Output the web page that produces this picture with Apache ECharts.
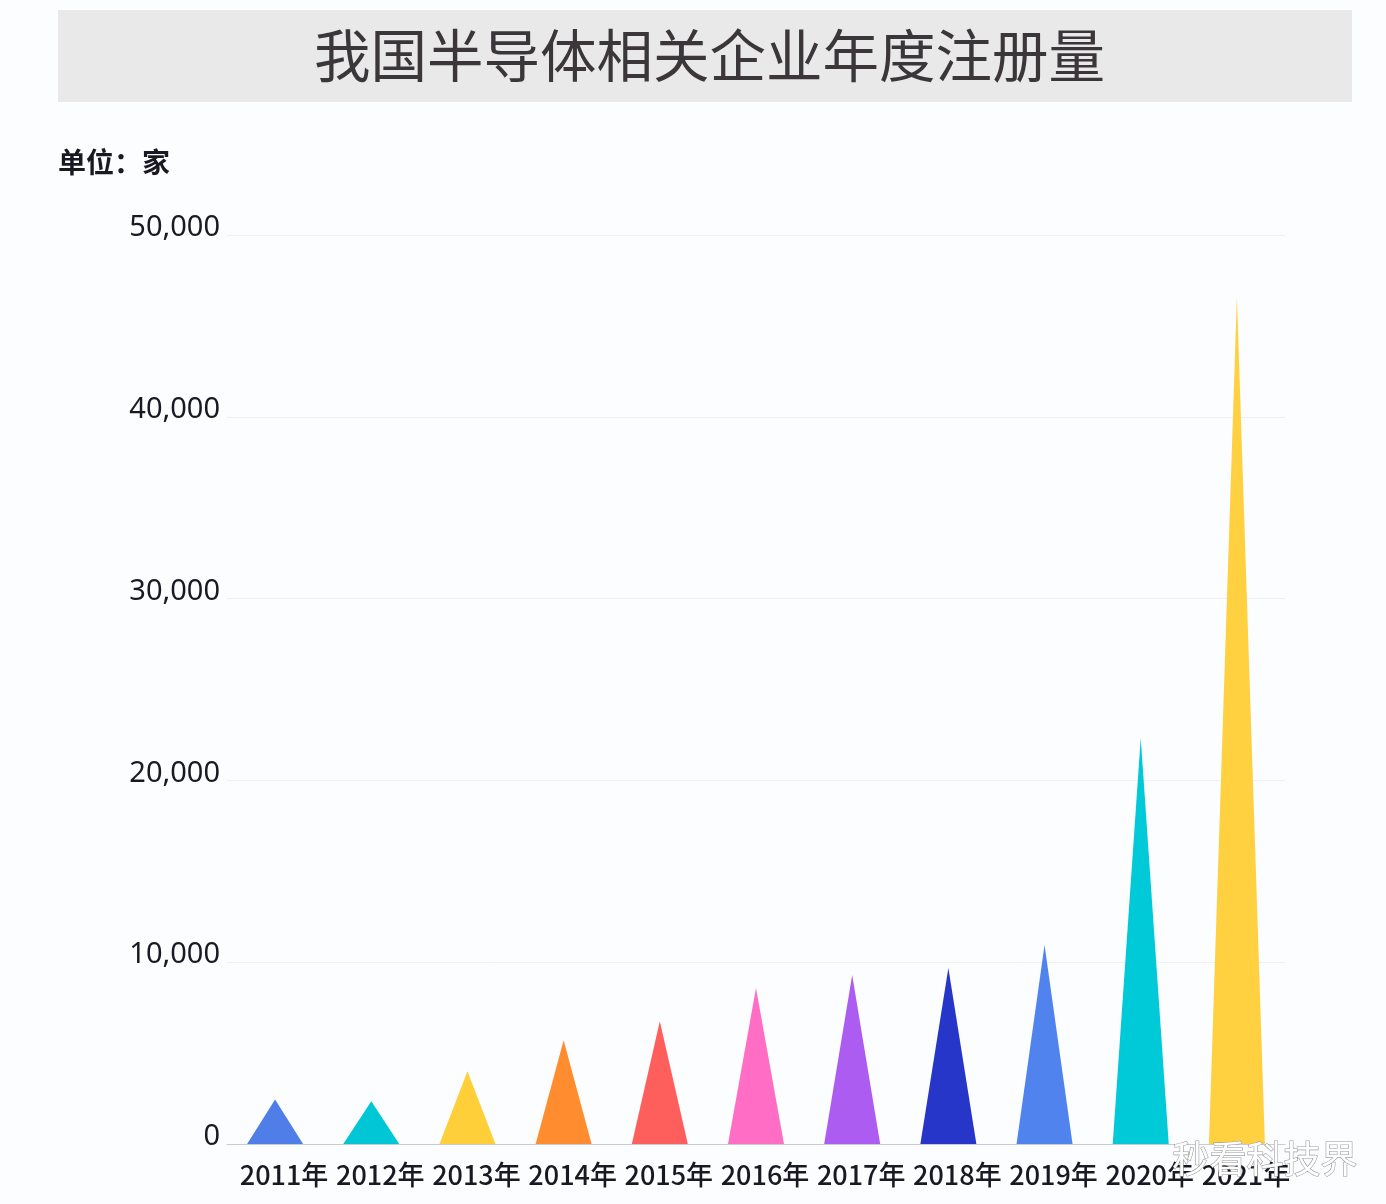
<!DOCTYPE html>
<html>
<head>
<meta charset="utf-8">
<script src="https://cdn.jsdelivr.net/npm/echarts@6/dist/echarts.min.js"></script>
<style>
  html, body { margin: 0; padding: 0; background: #fcfdff; }
  #main { width: 1386px; height: 1204px; }
</style>
</head>
<body>
<div id="main"></div>
<script>
    var years = ['2011年', '2012年', '2013年', '2014年', '2015年', '2016年',
        '2017年', '2018年', '2019年', '2020年', '2021年'];
    var counts = [2450, 2350, 4000, 5700, 6750, 8580, 9300, 9680, 10950, 22330, 46600];
    var colors = ['#4f7ee8', '#00c6d6', '#ffcf3a', '#ff8c2e', '#ff5f5c', '#ff6ec4',
        '#ad5cf2', '#2636c9', '#5083ee', '#00c9d8', '#ffd03f'];
    var yTicks = [0, 10000, 20000, 30000, 40000, 50000];

    var myChart = echarts.init(document.getElementById('main'));
    var option = {
        backgroundColor: '#fcfdff',
        title: {
            text: '我国半导体相关企业年度注册量',
            left: 309,
            top: 22,
            textStyle: {
                fontFamily: 'Noto Sans CJK SC',
                fontSize: 56.5,
                fontWeight: 'normal',
                color: '#3b3639'
            }
        },
        graphic: [{
            type: 'rect',
            z: -1,
            shape: { x: 58, y: 10, width: 1294, height: 92 },
            style: { fill: '#e9e9e9' }
        }, {
            type: 'text',
            left: 58,
            top: 148,
            style: {
                text: '单位：家',
                fontFamily: 'Noto Sans CJK SC',
                fontSize: 28,
                fontWeight: 'bold',
                fill: '#1a1822'
            }
        }, {
            type: 'text',
            left: 1172,
            top: 1140,
            z: 100,
            style: {
                text: '秒看科技界',
                fontFamily: 'Noto Sans CJK SC',
                fontSize: 37,
                fill: '#ffffff',
                stroke: '#9a9a9a',
                lineWidth: 1.2
            }
        }],
        grid: {
            left: 227,
            right: 101,
            top: 235,
            bottom: 60,
            containLabel: false
        },
        xAxis: {
            type: 'category',
            data: years,
            axisLine: { lineStyle: { color: '#c8ccd6' } },
            axisTick: { alignWithLabel: true, length: 5, lineStyle: { color: '#c8ccd6' } },
            axisLabel: {
                interval: 0,
                margin: 17,
                padding: [0, 0, 0, 18],
                fontFamily: 'Noto Sans CJK SC',
                fontSize: 27,
                fontWeight: 500,
                color: '#1a1822'
            }
        },
        yAxis: {
            type: 'value',
            min: yTicks[0],
            max: yTicks[yTicks.length - 1],
            interval: 10000,
            axisLine: { show: false },
            axisTick: { show: false },
            splitLine: { lineStyle: { color: '#eef0f4' } },
            axisLabel: {
                margin: 7,
                verticalAlign: 'bottom',
                lineHeight: 14,
                fontFamily: 'Noto Sans',
                fontSize: 29,
                color: '#1a1822',
                formatter: function (v) {
                    return v.toLocaleString('en-US');
                }
            }
        },
        series: [{
            type: 'pictorialBar',
            symbol: 'triangle',
            symbolSize: [56, '100%'],
            barCategoryGap: '0%',
            data: counts.map(function (v, i) {
                return { value: v, itemStyle: { color: colors[i] } };
            })
        }]
    };
    myChart.setOption(option);

    window.addEventListener('resize', function () {
        myChart.resize();
    });
</script>
</body>
</html>
